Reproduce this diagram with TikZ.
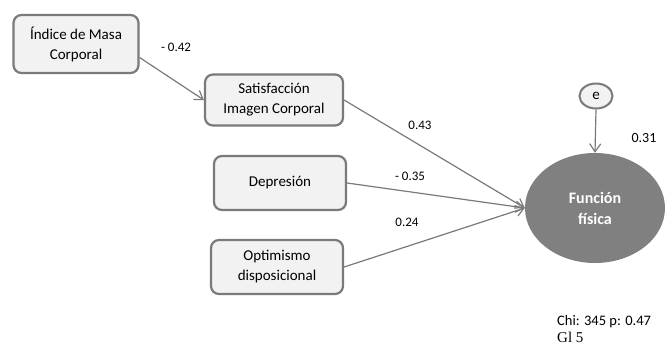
\documentclass[tikz,border=0pt]{standalone}
\usepackage{fontspec}
\setmainfont{Carlito}
\newfontfamily\timesfont{Liberation Serif}
\usetikzlibrary{shapes.geometric,arrows.meta}
\definecolor{boxfill}{HTML}{F2F2F2}
\definecolor{boxline}{HTML}{7A7A7A}
\definecolor{ovalfill}{HTML}{808080}

\begin{document}
\begin{tikzpicture}[x=1pt,y=-1pt,
  var/.style={draw=boxline,line width=2.2pt,fill=boxfill,rounded corners=8pt,
    align=center,inner sep=0pt,font=\fontsize{15}{20}\selectfont},
  effect/.style={draw=boxline,line width=1.2pt,
    -{Straight Barb[length=8pt,width=11pt]}},
  coef/.style={font=\fontsize{13}{16}\selectfont}]
\useasboundingbox[fill=white] (0,0) rectangle (670,346);

% observed variables
\node[var,minimum width=125pt,minimum height=58pt] (imc) at (76,44) {Índice de Masa\\Corporal};
\node[var,minimum width=138pt,minimum height=51pt] (sat) at (274,100) {Satisfacción\\Imagen Corporal};
\node[var,minimum width=132pt,minimum height=54pt] (dep) at (280,183) {Depresión};
\node[var,minimum width=132pt,minimum height=54pt] (opt) at (277,267) {Optimismo\\disposicional};

% outcome and error
\node[ellipse,fill=ovalfill,minimum width=140pt,minimum height=110pt,inner sep=0pt,
  align=center,text=white,font=\fontsize{16}{21}\selectfont\bfseries] (ff) at (595,208) {Función\\física};
\node[ellipse,draw=boxline,line width=2pt,fill=boxfill,minimum width=33pt,minimum height=25pt,
  inner sep=0pt,font=\fontsize{15}{18}\selectfont] (err) at (596,96) {e};

% paths
\draw[effect] (imc.-12) -- (sat.west);
\draw[effect] (sat.east) -- (ff.west);
\draw[effect] (dep.east) -- (ff.west);
\draw[effect] (opt.east) -- (ff.west);
\draw[effect] (err.south) -- (ff.north);

% coefficients
\node[coef] (c42) at (176,47) {- 0.42};
\node[coef] (c43) at (420,125) {0.43};
\node[coef] (c35) at (410,176) {- 0.35};
\node[coef] (c24) at (407,222) {0.24};
\node[coef,font=\fontsize{14}{16}\selectfont] (r2) at (644,138) {0.31};

% fit
\node[anchor=west,inner sep=0pt,font=\fontsize{14.5}{17}\selectfont] (chi) at (557,322) {Chi: 345 p: 0.47};
\node[anchor=west,inner sep=0pt,font=\fontsize{15}{17}\selectfont\timesfont] (gl) at (557,337) {Gl 5};
\end{tikzpicture}
\end{document}
